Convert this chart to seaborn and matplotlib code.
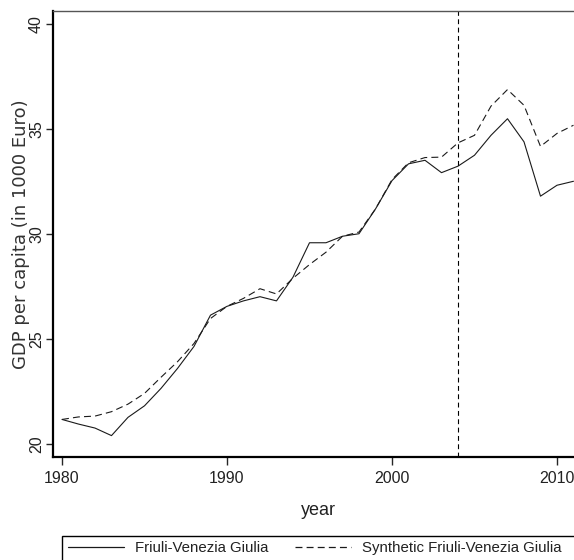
import numpy as np
import pandas as pd
import matplotlib
matplotlib.use("Agg")
import matplotlib.pyplot as plt
import seaborn as sns
from matplotlib.lines import Line2D
from matplotlib.patches import Rectangle

years = list(range(1980, 2012))
friuli = [21.17, 20.95, 20.76, 20.40, 21.27, 21.82, 22.65, 23.60, 24.65, 26.14,
          26.56, 26.82, 27.02, 26.82, 27.95, 29.59, 29.59, 29.90, 30.02, 31.20,
          32.55, 33.35, 33.52, 32.93, 33.24, 33.76, 34.71, 35.50, 34.40, 31.81,
          32.33, 32.52]
synthetic = [21.17, 21.29, 21.33, 21.54, 21.90, 22.41, 23.18, 23.92, 24.79, 25.98,
             26.56, 26.94, 27.40, 27.15, 27.90, 28.55, 29.14, 29.90, 30.10, 31.20,
             32.60, 33.40, 33.65, 33.67, 34.35, 34.71, 36.10, 36.89, 36.14, 34.18,
             34.80, 35.19]
series_names = ["Friuli-Venezia Giulia", "Synthetic Friuli-Venezia Giulia"]
xticks = [1980, 1990, 2000, 2010]
yticks = [20, 25, 30, 35, 40]
treatment_year = 2004

df = pd.DataFrame({
    "year": years * 2,
    "gdp": friuli + synthetic,
    "series": [series_names[0]] * len(years) + [series_names[1]] * len(years),
})

sns.set_style("white")
plt.rcParams["font.family"] = ["Liberation Sans", "DejaVu Sans"]
plt.rcParams["lines.scale_dashes"] = False

W, H = 574, 560
fig = plt.figure(figsize=(W / 100, H / 100), dpi=100)
ax = fig.add_axes([53 / W, 1 - 457 / H, (574 - 53) / W, (457 - 11) / H])

sns.lineplot(data=df, x="year", y="gdp", style="series",
             dashes={series_names[0]: "", series_names[1]: (5.0, 3.0)},
             color="#1a1a1a", linewidth=0.8, legend=False, ax=ax)

ax.axvline(treatment_year, color="black", linewidth=0.8, dashes=(3.5, 2.5))

ax.set_xlim(1979.455, 1979.455 + 521 / 16.5)
ax.set_ylim(20 - 13 / 20.99, 40 + 13.3 / 20.99)
ax.set_xticks(xticks)
ax.set_yticks(yticks)
ax.set_xticklabels([str(v) for v in xticks], fontsize=11.5, color="#222222")
ax.set_yticklabels([str(v) for v in yticks], rotation=90, va="center", fontsize=11.5, color="#222222")
ax.tick_params(axis="x", direction="out", length=6, width=1, pad=4, bottom=True)
ax.tick_params(axis="y", direction="out", length=5, width=1, pad=1.5, left=True)

ax.set_xlabel("year", fontsize=13, color="#222222")
ax.xaxis.set_label_coords((318.7 - 53) / 521, -(502 - 457) / 446)
ax.set_ylabel("GDP per capita (in 1000 Euro)", family=["DejaVu Sans"], fontsize=13,
              color="#333333", labelpad=-1)

for s in ["left", "bottom"]:
    ax.spines[s].set_color("black")
    ax.spines[s].set_linewidth(1.6)
ax.spines["top"].set_color("#555555")
ax.spines["top"].set_linewidth(1.0)
ax.spines["right"].set_visible(False)

# legend box
fig.patches.append(Rectangle((61.5 / W, 1 - 580 / H), (600 - 61.5) / W, (580 - 536) / H,
                             transform=fig.transFigure, facecolor="white",
                             edgecolor="black", linewidth=1.0))
handles = [Line2D([], [], color="#1a1a1a", linewidth=0.9),
           Line2D([], [], color="#1a1a1a", linewidth=0.9, dashes=(5.0, 3.0))]
leg = fig.legend(handles, series_names, loc="upper left",
                 bbox_to_anchor=(65 / W, 1 - 538 / H), ncol=2, frameon=False,
                 prop={"size": 10.8}, handlelength=3.75,
                 handletextpad=0.72, columnspacing=1.75, borderaxespad=0, borderpad=0.2)
for t in leg.get_texts():
    t.set_color("#222222")

fig.savefig("out.png", dpi=100)
